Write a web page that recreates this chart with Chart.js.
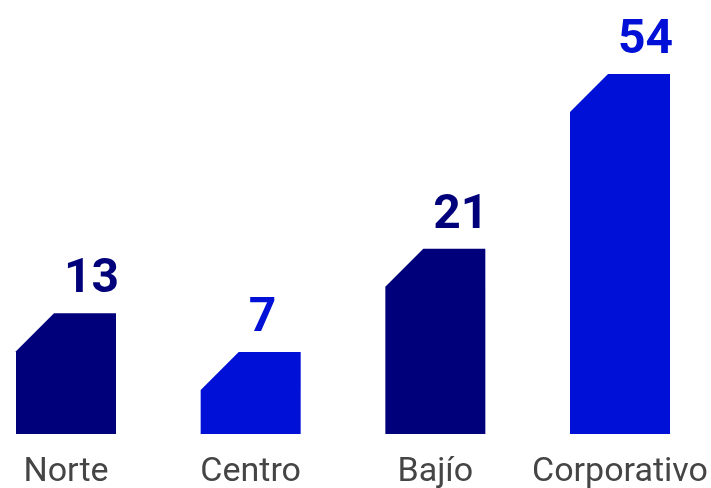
<!DOCTYPE html>
<html>
<head>
<meta charset="utf-8">
<script src="https://cdn.jsdelivr.net/npm/chart.js@4.4.1/dist/chart.umd.min.js"></script>
<style>
    html, body { margin: 0; padding: 0; background: #fff; }
    #wrap { width: 711px; height: 488px; position: relative; }
</style>
</head>
<body>
<div id="wrap"><canvas id="grafico" width="711" height="488"></canvas></div>
<script>
// --- DATOS ---
const regiones = ["Norte", "Centro", "Bajío", "Corporativo"];
const valores = [13, 7, 21, 54];            // número mostrado encima de cada barra
const alturas = [18.1, 12.3, 27.8, 54];     // alto de cada barra
const colores = ["#00007a", "#0010d6", "#00007a", "#0010d6"];

const CORTE = 38; // esquina recortada arriba a la izquierda

// Dibuja las barras con la esquina cortada + el valor encima
const barrasCortadas = {
    id: "barrasCortadas",
    afterDatasetsDraw(chart) {
        const ctx = chart.ctx;
        const meta = chart.getDatasetMeta(0);
        ctx.save();
        meta.data.forEach((bar, i) => {
            const izq = bar.x - bar.width / 2;
            const der = bar.x + bar.width / 2;
            ctx.fillStyle = colores[i];
            ctx.beginPath();
            ctx.moveTo(izq, bar.base);
            ctx.lineTo(izq, bar.y + CORTE);
            ctx.lineTo(izq + CORTE, bar.y);
            ctx.lineTo(der, bar.y);
            ctx.lineTo(der, bar.base);
            ctx.closePath();
            ctx.fill();

            ctx.font = "bold 48px Roboto";
            ctx.textAlign = "left";
            ctx.textBaseline = "alphabetic";
            ctx.fillText(valores[i], bar.x - 2, bar.y - 21);
        });
        ctx.restore();
    }
};

new Chart(document.getElementById("grafico").getContext("2d"), {
    type: "bar",
    data: {
        labels: regiones,
        datasets: [{
            data: alturas,
            backgroundColor: "rgba(0,0,0,0)",
            barThickness: 100
        }]
    },
    options: {
        responsive: false,
        animation: false,
        layout: { padding: { left: 66, right: 91, top: 34, bottom: 0 } },
        plugins: {
            legend: { display: false },
            tooltip: { enabled: false }
        },
        scales: {
            x: {
                offset: false,
                grid: { display: false, drawTicks: false },
                border: { display: false },
                afterFit: s => {
                    s.height = 54;
                    s.paddingLeft = 0;
                    s.paddingRight = 0;
                },
                ticks: {
                    padding: 18,
                    color: "#454545",
                    font: { family: "Roboto", size: 34 },
                    maxRotation: 0,
                    autoSkip: false
                }
            },
            y: { display: false, min: 0, max: 60 }
        }
    },
    plugins: [barrasCortadas]
});
</script>
</body>
</html>
